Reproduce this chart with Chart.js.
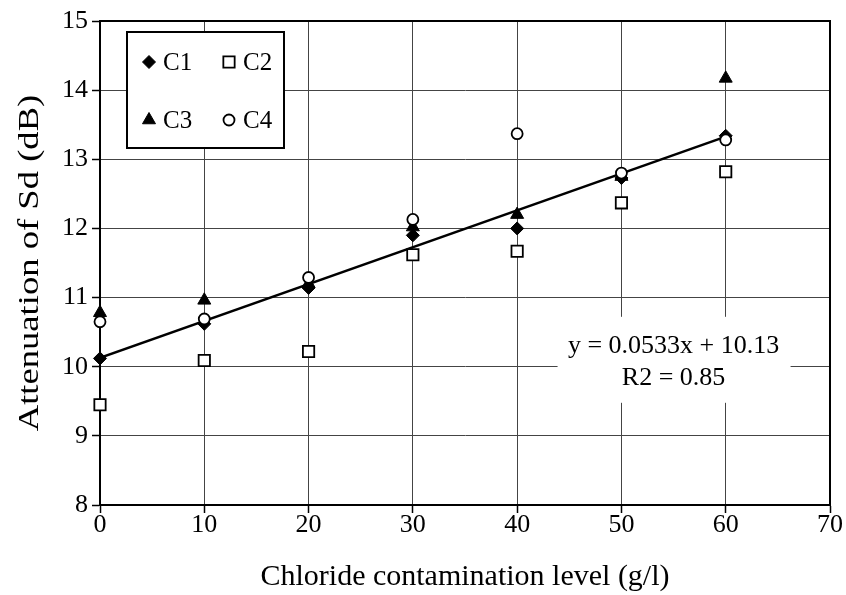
<!DOCTYPE html>
<html>
<head>
<meta charset="utf-8">
<script src="https://cdn.jsdelivr.net/npm/chart.js@4/dist/chart.umd.min.js"></script>
<style>
  html, body { margin: 0; padding: 0; background: #fff; }
  #wrap { width: 846px; height: 595px; }
</style>
</head>
<body>
<div id="wrap"><canvas id="myChart"></canvas></div>
<script>
'use strict';
//Data
const chlorideLevels = [0, 10, 20, 30, 40, 50, 60];
const c1Values = [10.12, 10.62, 11.14, 11.90, 12.00, 12.73, 13.34];
const c2Values = [9.45, 10.09, 10.22, 11.62, 11.67, 12.37, 12.82];
const c3Values = [10.78, 10.96, 11.20, 12.02, 12.20, 12.75, 14.17];
const c4Values = [10.65, 10.69, 11.29, 12.13, 13.37, 12.80, 13.28];
const fitSlope = 0.0533;
const fitIntercept = 10.13;
const fitRange = [0, 60];
const equationLines = ['y = 0.0533x + 10.13', 'R2 = 0.85'];
const xTitle = 'Chloride contamination level (g/l)';
const yTitle = 'Attenuation of Sd (dB)';

const serif = '"Liberation Serif", "Times New Roman", serif';

//Helpers
function toPoints(values){
  return values.map((v, i) => ({x: chlorideLevels[i], y: v}));
}

function series(label, values, style, radius, filled, order){
  return {
    label: label,
    data: toPoints(values),
    pointStyle: style,
    pointRadius: radius,
    pointHoverRadius: radius,
    pointBackgroundColor: filled ? '#000' : '#fff',
    pointBorderColor: '#000',
    pointBorderWidth: filled ? 1 : 1.8,
    showLine: false,
    clip: false,
    order: order
  };
}

//Plugins
const equationBox = {
  id: 'equationBox',
  beforeDatasetsDraw(chart){
    const ctx = chart.ctx;
    const cx = chart.scales.x.getPixelForValue(55);
    const cy = chart.scales.y.getPixelForValue(10.1);
    ctx.save();
    ctx.fillStyle = '#fff';
    ctx.fillRect(cx - 116, cy - 43, 233, 86);
    ctx.fillStyle = '#000';
    ctx.font = '26px ' + serif;
    ctx.textAlign = 'center';
    ctx.textBaseline = 'middle';
    ctx.fillText(equationLines[0], cx, cy - 14);
    ctx.fillText(equationLines[1], cx, cy + 18);
    ctx.restore();
  }
};

const frame = {
  id: 'frame',
  beforeDatasetsDraw(chart){
    const a = chart.chartArea;
    const ctx = chart.ctx;
    ctx.save();
    ctx.strokeStyle = '#000';
    ctx.lineWidth = 2;
    ctx.strokeRect(a.left, a.top, a.right - a.left, a.bottom - a.top);
    ctx.restore();
  }
};

// y title is a bit stretched along its length in the original
const yAxisTitle = {
  id: 'yAxisTitle',
  afterDraw(chart){
    const a = chart.chartArea;
    const ctx = chart.ctx;
    ctx.save();
    ctx.translate(30, (a.top + a.bottom) / 2);
    ctx.rotate(-Math.PI / 2);
    ctx.scale(1.22, 1);
    ctx.font = '30px ' + serif;
    ctx.fillStyle = '#000';
    ctx.textAlign = 'center';
    ctx.textBaseline = 'middle';
    ctx.fillText(yTitle, 0, 0);
    ctx.restore();
  }
};

const boxLegend = {
  id: 'boxLegend',
  afterDraw(chart){
    const a = chart.chartArea;
    const ctx = chart.ctx;
    const left = a.left + 27;
    const top = a.top + 11;
    ctx.save();
    ctx.fillStyle = '#fff';
    ctx.fillRect(left, top, 157, 116);
    ctx.strokeStyle = '#000';
    ctx.lineWidth = 2;
    ctx.strokeRect(left, top, 157, 116);
    ctx.font = '25px ' + serif;
    ctx.textBaseline = 'middle';
    const sets = chart.data.datasets.filter(d => d.pointStyle);
    sets.forEach((d, i) => {
      const mx = left + (i % 2 === 0 ? 22 : 102);
      const my = top + (i < 2 ? 30 : 88);
      ctx.fillStyle = d.pointBackgroundColor;
      ctx.strokeStyle = d.pointBorderColor;
      ctx.lineWidth = d.pointBorderWidth;
      Chart.helpers.drawPoint(ctx, {
        pointStyle: d.pointStyle,
        radius: d.pointRadius,
        rotation: 0,
        borderWidth: d.pointBorderWidth
      }, mx, my);
      ctx.fillStyle = '#000';
      ctx.textAlign = 'left';
      ctx.fillText(d.label, mx + 14, my + 1);
    });
    ctx.restore();
  }
};

//Chart
const chart_myChart = document.getElementById('myChart').getContext('2d');
new Chart(chart_myChart, {
  type: 'scatter',
  data: {
    datasets: [
      series('C1', c1Values, 'rectRot', 6.5, true, 2),
      series('C2', c2Values, 'rect', 8, false, 4),
      series('C3', c3Values, 'triangle', 7.5, true, 3),
      series('C4', c4Values, 'circle', 5.5, false, 1),
      {
        type: 'line',
        label: 'Fit',
        data: fitRange.map(x => ({x: x, y: fitSlope * x + fitIntercept})),
        borderColor: '#000',
        borderWidth: 2.5,
        pointRadius: 0,
        showLine: true,
        fill: false,
        order: 5
      }
    ]
  },
  options: {
    responsive: true,
    maintainAspectRatio: false,
    animation: false,
    layout: {padding: {left: 15, top: 21, right: 16, bottom: 0}},
    plugins: {
      legend: {display: false},
      tooltip: {enabled: false}
    },
    scales: {
      x: {
        type: 'linear',
        min: 0,
        max: 70,
        ticks: {stepSize: 10, color: '#000', font: {family: serif, size: 26}, padding: -3, maxRotation: 0},
        grid: {color: '#444', lineWidth: 1, tickLength: 8, tickColor: '#000', tickWidth: 1.5},
        border: {color: '#000', width: 2},
        title: {display: true, text: xTitle, color: '#000', font: {family: serif, size: 30}, padding: {top: 0, bottom: 0}},
        afterFit(scale){ scale.height = 90; }
      },
      y: {
        type: 'linear',
        min: 8,
        max: 15,
        ticks: {stepSize: 1, color: '#000', font: {family: serif, size: 26}, padding: 4},
        grid: {color: '#444', lineWidth: 1, tickLength: 8, tickColor: '#000', tickWidth: 1.5},
        border: {color: '#000', width: 2},
        title: {display: false},
        afterFit(scale){ scale.width = 85; }
      }
    }
  },
  plugins: [equationBox, frame, yAxisTitle, boxLegend]
});
</script>
</body>
</html>
